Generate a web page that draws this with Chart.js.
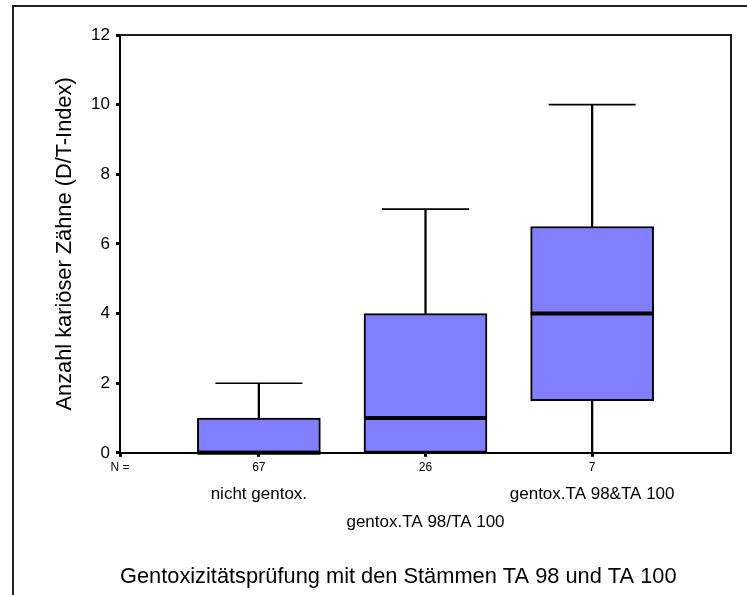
<!DOCTYPE html>
<html>
<head>
<meta charset="utf-8">
<script src="https://cdn.jsdelivr.net/npm/chart.js@4"></script>
<style>
  html, body { margin: 0; padding: 0; background: #fff; }
  #wrap { position: relative; width: 747px; height: 595px; }
  #frame { position: absolute; left: 12px; top: 5px; right: 0; bottom: 0;
           border-left: 2px solid #222; border-top: 2px solid #222; }
  #myChart { position: absolute; left: 0; top: 0; }
</style>
</head>
<body>
<div id="wrap">
  <div id="frame"></div>
  <canvas id="myChart" width="747" height="595"></canvas>
</div>
<script>
const groups = ['nicht gentox.', 'gentox.TA 98/TA 100', 'gentox.TA 98&TA 100'];
const counts = [67, 26, 7];
const mins = [0, 0, 0];
const q1s = [0, 0, 1.5];
const medians = [0, 1, 4];
const q3s = [1, 4, 6.5];
const maxs = [2, 7, 10];

const yTitle = 'Anzahl kariöser Zähne (D/T-Index)';
const xTitle = 'Gentoxizitätsprüfung mit den Stämmen TA 98 und TA 100';

Chart.defaults.font.family = "'Liberation Sans', Arial, sans-serif";
Chart.defaults.color = '#000';

const pos = groups.map((g, i) => i + 1);
const xMin = 1 / 6, xMax = 3 + 5 / 6;

// frame round the plot area (top and right sides)
const plotFrame = {
  id: 'plotFrame',
  afterDraw(chart) {
    const a = chart.chartArea, c = chart.ctx;
    c.save();
    c.strokeStyle = '#1a1a1a';
    c.lineWidth = 2;
    c.beginPath();
    c.moveTo(a.left, a.top);
    c.lineTo(a.right, a.top);
    c.lineTo(a.right, a.bottom);
    c.stroke();
    c.restore();
  }
};

const ctx = document.getElementById('myChart');

new Chart(ctx, {
  type: 'bar',
  data: {
    datasets: [
      {
        type: 'line',
        label: 'Median',
        data: pos.map((x, i) => ({ x: x, y: medians[i] })),
        showLine: false,
        pointStyle: 'line',
        pointRadius: 61.5,
        pointHoverRadius: 61.5,
        pointBorderWidth: 4,
        pointBorderColor: '#000',
        clip: false,
        order: 0
      },
      {
        type: 'line',
        label: 'Max',
        data: pos.map((x, i) => ({ x: x, y: maxs[i] })),
        showLine: false,
        pointStyle: 'line',
        pointRadius: 43.5,
        pointHoverRadius: 43.5,
        pointBorderWidth: 1.6,
        pointBorderColor: '#000',
        clip: false,
        order: 1
      },
      {
        type: 'line',
        label: 'Min',
        data: pos.map((x, i) => ({ x: x, y: mins[i] })),
        showLine: false,
        pointStyle: 'line',
        pointRadius: 43.5,
        pointHoverRadius: 43.5,
        pointBorderWidth: 1.6,
        pointBorderColor: '#000',
        clip: false,
        order: 1
      },
      {
        label: 'Box',
        data: pos.map((x, i) => ({ x: x, y: [q1s[i], q3s[i]] })),
        backgroundColor: '#8080ff',
        borderColor: '#000',
        borderWidth: 2,
        borderSkipped: false,
        barThickness: 123,
        grouped: false,
        order: 2
      },
      {
        label: 'Whisker oben',
        data: pos.map((x, i) => ({ x: x, y: [q3s[i], maxs[i]] })),
        backgroundColor: '#000',
        borderWidth: 0,
        barThickness: 1.6,
        grouped: false,
        order: 3
      },
      {
        label: 'Whisker unten',
        data: pos.map((x, i) => ({ x: x, y: mins[i] < q1s[i] ? [mins[i], q1s[i]] : null })),
        backgroundColor: '#000',
        borderWidth: 0,
        barThickness: 1.6,
        grouped: false,
        order: 3
      }
    ]
  },
  options: {
    responsive: false,
    animation: false,
    events: [],
    layout: { autoPadding: false, padding: { top: 35, right: 16, left: 0, bottom: 0 } },
    plugins: {
      legend: { display: false },
      tooltip: { enabled: false },
      title: {
        display: true,
        position: 'bottom',
        fullSize: false,
        align: 'start',
        text: xTitle,
        color: '#000',
        font: { size: 21.8, weight: 'normal', lineHeight: 1.2 },
        padding: { top: 29, bottom: 5 }
      }
    },
    scales: {
      xN: {
        type: 'linear',
        position: 'bottom',
        weight: 0,
        min: xMin,
        max: xMax,
        offset: false,
        afterBuildTicks: s => { s.ticks = [{ value: xMin }].concat(pos.map(v => ({ value: v }))); },
        afterFit: s => { s.height = 22; },
        ticks: {
          autoSkip: false,
          maxRotation: 0,
          padding: 4,
          font: { size: 12 },
          callback: (v, i) => (i === 0 ? 'N =' : String(counts[i - 1]))
        },
        grid: { offset: false, drawOnChartArea: false, tickLength: 4, tickWidth: 3, tickColor: '#000' },
        border: { display: true, color: '#000', width: 2 }
      },
      x: {
        type: 'linear',
        position: 'bottom',
        weight: 1,
        min: xMin,
        max: xMax,
        offset: false,
        afterBuildTicks: s => { s.ticks = pos.map(v => ({ value: v })); },
        afterFit: s => { s.height = 60; },
        ticks: {
          autoSkip: false,
          maxRotation: 0,
          padding: 6,
          font: { size: 17, lineHeight: '27.5px' },
          callback: (v, i) => (i % 2 === 0 ? [groups[i], ''] : ['', groups[i]])
        },
        grid: { offset: false, display: false, drawTicks: false },
        border: { display: false }
      },
      y: {
        position: 'left',
        min: 0,
        max: 12,
        afterFit: s => { s.width = 120; },
        ticks: { stepSize: 2, padding: 6, font: { size: 17 } },
        grid: { drawOnChartArea: false, tickLength: 4, tickWidth: 3, tickColor: '#000' },
        border: { display: true, color: '#000', width: 2 },
        title: {
          display: true,
          text: yTitle,
          color: '#000',
          font: { size: 21.8, lineHeight: 1.2 },
          padding: { top: 52, bottom: 0 }
        }
      }
    }
  },
  plugins: [plotFrame]
});
</script>
</body>
</html>
